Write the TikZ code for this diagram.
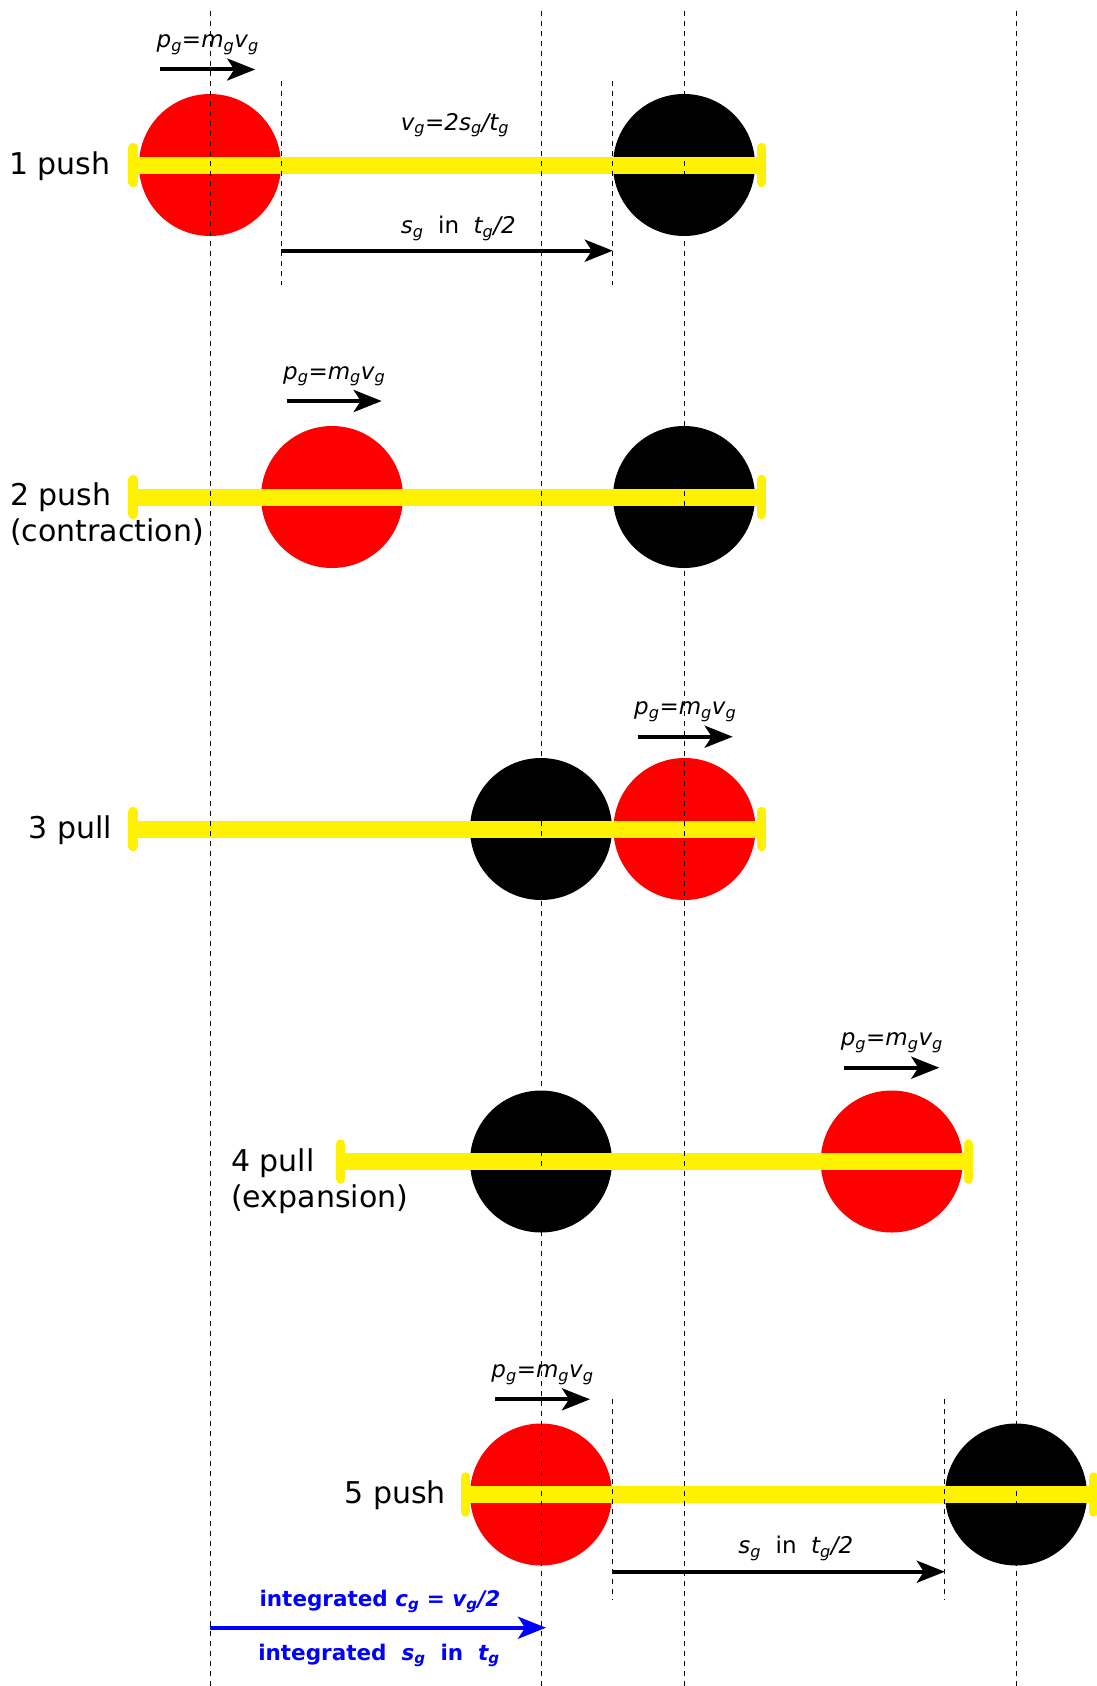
\documentclass[tikz,border=0pt]{standalone}
\usepackage{fontspec}
\setmainfont{DejaVu Sans}
\usepackage{tikz}
\usetikzlibrary{arrows.meta,positioning}
\newcommand{\mom}{p\textsubscript{g}=m\textsubscript{g}v\textsubscript{g}}
\newcommand{\sgin}{s\textsubscript{g}~~\textup{in}~~t\textsubscript{g}/2}

\begin{document}
\begin{tikzpicture}[x=1pt,y=-1pt,
  ball/.style={circle,minimum size=142pt,inner sep=0pt},
  rod/.style={draw=yellow,line width=17pt},
  rodend/.style={draw=yellow,line width=9.5pt,line cap=round},
  guide/.style={draw,line width=1pt,dash pattern=on 5pt off 5pt},
  push/.style={draw,line width=4pt,-{Stealth[length=28pt,width=22pt,inset=7pt]}},
  rowlabel/.style={font=\fontsize{30}{36}\selectfont,inner sep=0pt,align=left},
  small/.style={font=\fontsize{23}{28}\selectfont\itshape,inner sep=0pt,anchor=base},
  bluelabel/.style={font=\fontsize{21.5}{26}\selectfont\bfseries,text=blue,inner sep=0pt,anchor=base}
]
\useasboundingbox (0,0) rectangle (1097,1686);

% balls
\node[ball,fill=red] (r1) at (210,165) {};
\node[ball,fill=black] (k1) at (684,165) {};
\node[ball,fill=red] (r2) at (332,497) {};
\node[ball,fill=black] (k2) at (684,497) {};
\node[ball,fill=black] (k3) at (541,829) {};
\node[ball,fill=red] (r3) at (684.5,829) {};
\node[ball,fill=black] (k4) at (541,1161.5) {};
\node[ball,fill=red] (r4) at (891.7,1161.5) {};
\node[ball,fill=red] (r5) at (541,1494.5) {};
\node[ball,fill=black] (k5) at (1016,1494.5) {};

% rods
\coordinate (a1) at (133,165);     \coordinate (b1) at (761.7,165);
\coordinate (a2) at (133,497);     \coordinate (b2) at (761.7,497);
\coordinate (a3) at (133,829);     \coordinate (b3) at (761.7,829);
\coordinate (a4) at (340.5,1161.5); \coordinate (b4) at (968.5,1161.5);
\coordinate (a5) at (465.3,1494.5); \coordinate (b5) at (1093.5,1494.5);
\draw[rod] (a1) -- (b1);
\draw[rod] (a2) -- (b2);
\draw[rod] (a3) -- (b3);
\draw[rod] (a4) -- (b4);
\draw[rod] (a5) -- (b5);
\draw[rodend] ([yshift=17.5pt]a1) -- ([yshift=-17.5pt]a1);
\draw[rodend] ([yshift=17.5pt]b1) -- ([yshift=-17.5pt]b1);
\draw[rodend] ([yshift=17.5pt]a2) -- ([yshift=-17.5pt]a2);
\draw[rodend] ([yshift=17.5pt]b2) -- ([yshift=-17.5pt]b2);
\draw[rodend] ([yshift=17.5pt]a3) -- ([yshift=-17.5pt]a3);
\draw[rodend] ([yshift=17.5pt]b3) -- ([yshift=-17.5pt]b3);
\draw[rodend] ([yshift=17.5pt]a4) -- ([yshift=-17.5pt]a4);
\draw[rodend] ([yshift=17.5pt]b4) -- ([yshift=-17.5pt]b4);
\draw[rodend] ([yshift=17.5pt]a5) -- ([yshift=-17.5pt]a5);
\draw[rodend] ([yshift=17.5pt]b5) -- ([yshift=-17.5pt]b5);

% dashed guides
\draw[guide] (210,11) -- (210,1686);
\draw[guide] (541,11) -- (541,1686);
\draw[guide] (684,11) -- (684,1686);
\draw[guide] (1016,11) -- (1016,1686);
\draw[guide] ([yshift=84pt]r1.east) -- ([yshift=-120pt]r1.east);
\draw[guide] ([yshift=84pt]k1.west) -- ([yshift=-120pt]k1.west);
\draw[guide] ([yshift=95.5pt]r5.east) -- ([yshift=-105.5pt]r5.east);
\draw[guide] ([yshift=95.5pt]k5.west) -- ([yshift=-105.5pt]k5.west);

% momentum
\node[small] (p1) at (207.7,47.5) {\mom};
\node[small] (p2) at (334.2,379) {\mom};
\node[small] (p3) at (685.2,714.7) {\mom};
\node[small] (p4) at (891.8,1045.7) {\mom};
\node[small] (p5) at (542.5,1377.3) {\mom};
\draw[push] ([xshift=-47.5pt,yshift=-22pt]p1.base) -- ([xshift=47.5pt,yshift=-22pt]p1.base);
\draw[push] ([xshift=-47.5pt,yshift=-22pt]p2.base) -- ([xshift=47.5pt,yshift=-22pt]p2.base);
\draw[push] ([xshift=-47.5pt,yshift=-22pt]p3.base) -- ([xshift=47.5pt,yshift=-22pt]p3.base);
\draw[push] ([xshift=-47.5pt,yshift=-22pt]p4.base) -- ([xshift=47.5pt,yshift=-22pt]p4.base);
\draw[push] ([xshift=-47.5pt,yshift=-22pt]p5.base) -- ([xshift=47.5pt,yshift=-22pt]p5.base);

% distances
\node[small] (v1) at (455,130) {v\textsubscript{g}=2s\textsubscript{g}/t\textsubscript{g}};
\node[small] (s1) at (458.3,233.3) {\sgin};
\node[small] (s5) at (795.8,1553.3) {\sgin};
\draw[push] ([yshift=-85.7pt]r1.east) -- ([yshift=-85.7pt]k1.west);
\draw[push] ([yshift=-77.2pt]r5.east) -- ([yshift=-77.2pt]k5.west);

% integrated
\coordinate (ga) at (210,1627.7);
\coordinate (gb) at (546,1627.7);
\draw[push,blue] (ga) -- (gb);
\node[bluelabel] (i1) at (380,1606) {integrated \textit{c\textsubscript{g}} = \textit{v\textsubscript{g}/2}};
\node[bluelabel] (i2) at (379,1660) {integrated~~\textit{s\textsubscript{g}}~~in~~\textit{t\textsubscript{g}}};

% row labels
\node[rowlabel,anchor=base west] (n1) at (9,174) {1 push};
\node[rowlabel,anchor=north west] (n2) at (10,482.2) {2 push\\(contraction)};
\node[rowlabel,anchor=base east] (n3) at (112,838.3) {3 pull};
\node[rowlabel,anchor=north west] (n4) at (231,1148.6) {4 pull\\(expansion)};
\node[rowlabel,anchor=base east] (n5) at (446,1503.5) {5 push};
\end{tikzpicture}
\end{document}
